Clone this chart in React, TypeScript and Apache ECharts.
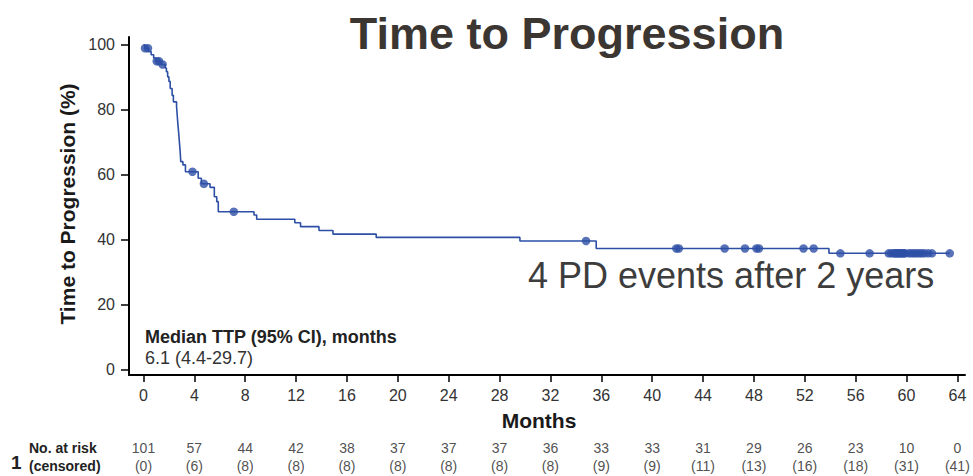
import React, { useEffect, useRef } from "react";
import * as echarts from "echarts";

// Kaplan–Meier step curve: month at which each step starts, and survival (%) from then on
const stepMonths = [
  0, 0.1, 0.4, 0.6, 0.8, 0.95, 1.4, 1.7, 1.8, 1.9, 2.0, 2.1, 2.25, 2.35, 2.6,
  2.64, 2.68, 2.72, 2.77, 2.81, 2.85, 2.89, 2.93, 3.1, 3.3, 4.3, 4.55, 5.23,
  5.57, 5.76, 5.88, 8.69, 8.9, 11.9, 12.35, 13.8, 14.9, 18.3, 29.6, 35.6, 53.9,
  63.4,
];
const stepSurvival = [
  100, 99.0, 98.0, 97.0, 96.0, 95.0, 94.0, 92.9, 91.8, 90.2, 88.8, 86.6, 84.5,
  82.5, 81.0, 79.0, 76.9, 74.9, 72.9, 70.8, 68.8, 66.8, 64.1, 63.1, 61.0, 59.0,
  57.3, 56.2, 53.3, 51.8, 48.7, 47.7, 46.4, 45.3, 44.1, 42.9, 41.8, 40.8, 39.7,
  37.4, 35.9, 35.9,
];

// Censoring times (months)
const censorMonths = [
  0.12, 0.35, 1.04, 1.22, 1.5, 3.85, 4.75, 7.1, 34.8, 41.9, 42.1, 45.7, 47.3,
  48.2, 48.4, 51.9, 52.7, 54.8, 57.1, 58.6, 58.8, 59.0, 59.1, 59.2, 59.3, 59.4,
  59.5, 59.6, 59.7, 59.8, 59.9, 60.2, 60.4, 60.6, 60.8, 61.0, 61.2, 61.4, 61.7,
  62.0, 63.4,
];

// Axis ticks
const monthTicks = [0, 4, 8, 12, 16, 20, 24, 28, 32, 36, 40, 44, 48, 52, 56, 60, 64];
const percentTicks = [0, 20, 40, 60, 80, 100];

// Risk table
const atRisk = [101, 57, 44, 42, 38, 37, 37, 37, 36, 33, 33, 31, 29, 26, 23, 10, 0];
const censoredCounts = [0, 6, 8, 8, 8, 8, 8, 8, 8, 9, 9, 11, 13, 16, 18, 31, 41];

const FONT = "'Liberation Sans', Arial, sans-serif";
const BLUE = "#2d4fa5";
const X_MIN = -1.14;
const X_MAX = 64.6;
const Y_MIN = -1.54;
const Y_MAX = 102.46;

function survivalAt(t: number): number {
  let s = stepSurvival[0];
  for (let i = 0; i < stepMonths.length; i++) {
    if (stepMonths[i] <= t) s = stepSurvival[i];
  }
  return s;
}

export default function App() {
  const ref = useRef<HTMLDivElement>(null);

  useEffect(() => {
    if (!ref.current) return;
    const chart = echarts.init(ref.current, undefined, { renderer: "svg" });

    const curve = stepMonths.map((m, i) => [m, stepSurvival[i]]);
    const censors = censorMonths.map((m) => [m, survivalAt(m)]);

    const riskLabel = {
      show: true,
      position: "inside",
      fontSize: 14,
      color: "#222",
      fontFamily: FONT,
    };

    chart.setOption({
      animation: false,
      textStyle: { fontFamily: FONT },
      grid: [
        { left: 129, right: 8, top: 37, bottom: 101 },
        { left: 129, right: 8, top: 448, height: 18 },
      ],
      xAxis: [
        {
          type: "value",
          gridIndex: 0,
          min: X_MIN,
          max: X_MAX,
          splitLine: { show: false },
          axisLine: { show: true, onZero: false, lineStyle: { color: "#000", width: 2 } },
          axisTick: {
            show: true,
            length: 7,
            customValues: monthTicks,
            lineStyle: { color: "#000", width: 1.5 },
          },
          axisLabel: {
            customValues: monthTicks,
            margin: 12,
            fontSize: 16,
            color: "#333",
            fontFamily: FONT,
          },
        },
        {
          type: "value",
          gridIndex: 1,
          min: X_MIN,
          max: X_MAX,
          show: false,
        },
      ],
      yAxis: [
        {
          type: "value",
          gridIndex: 0,
          min: Y_MIN,
          max: Y_MAX,
          splitLine: { show: false },
          axisLine: { show: true, onZero: false, lineStyle: { color: "#000", width: 2 } },
          axisTick: {
            show: true,
            length: 8,
            customValues: percentTicks,
            lineStyle: { color: "#000", width: 1.5 },
          },
          axisLabel: {
            customValues: percentTicks,
            margin: 14,
            fontSize: 16,
            color: "#333",
            fontFamily: FONT,
          },
        },
        { type: "value", gridIndex: 1, min: 0, max: 1, show: false },
      ],
      series: [
        {
          type: "line",
          step: "end",
          data: curve,
          showSymbol: false,
          lineStyle: { color: BLUE, width: 1.6 },
          z: 2,
        },
        {
          type: "scatter",
          data: censors,
          symbol: "circle",
          symbolSize: 8.5,
          itemStyle: { color: BLUE },
          z: 3,
        },
        {
          type: "scatter",
          xAxisIndex: 1,
          yAxisIndex: 1,
          data: atRisk.map((v, i) => [monthTicks[i], 1, v]),
          symbolSize: 1,
          itemStyle: { color: "transparent" },
          label: { ...riskLabel, formatter: (p: any) => String(p.value[2]) },
        },
        {
          type: "scatter",
          xAxisIndex: 1,
          yAxisIndex: 1,
          data: censoredCounts.map((v, i) => [monthTicks[i], 0, v]),
          symbolSize: 1,
          itemStyle: { color: "transparent" },
          label: { ...riskLabel, formatter: (p: any) => `(${p.value[2]})` },
        },
      ],
      graphic: [
        {
          type: "text",
          x: 567,
          y: 33,
          style: {
            text: "Time to Progression",
            font: `bold 45px ${FONT}`,
            fill: "#3b3632",
            align: "center",
            verticalAlign: "middle",
          },
        },
        {
          type: "text",
          x: 67,
          y: 204,
          rotation: Math.PI / 2,
          style: {
            text: "Time to Progression (%)",
            font: `bold 21px ${FONT}`,
            fill: "#1a1a1a",
            align: "center",
            verticalAlign: "middle",
          },
        },
        {
          type: "text",
          x: 539,
          y: 420,
          style: {
            text: "Months",
            font: `bold 21px ${FONT}`,
            fill: "#1a1a1a",
            align: "center",
            verticalAlign: "middle",
          },
        },
        {
          type: "text",
          x: 145,
          y: 337,
          style: {
            text: "Median TTP (95% CI), months",
            font: `bold 18px ${FONT}`,
            fill: "#222",
            align: "left",
            verticalAlign: "middle",
          },
        },
        {
          type: "text",
          x: 145,
          y: 358,
          style: {
            text: "6.1 (4.4-29.7)",
            font: `18px ${FONT}`,
            fill: "#333",
            align: "left",
            verticalAlign: "middle",
          },
        },
        {
          type: "text",
          x: 528,
          y: 275,
          style: {
            text: "4 PD events after 2 years",
            font: `36px ${FONT}`,
            fill: "#3d3d3d",
            align: "left",
            verticalAlign: "middle",
          },
        },
        {
          type: "text",
          x: 29,
          y: 448,
          style: {
            text: "No. at risk",
            font: `bold 14px ${FONT}`,
            fill: "#222",
            align: "left",
            verticalAlign: "middle",
          },
        },
        {
          type: "text",
          x: 29,
          y: 466,
          style: {
            text: "(censored)",
            font: `bold 14px ${FONT}`,
            fill: "#222",
            align: "left",
            verticalAlign: "middle",
          },
        },
        {
          type: "text",
          x: 11,
          y: 462,
          style: {
            text: "1",
            font: `bold 19px ${FONT}`,
            fill: "#222",
            align: "left",
            verticalAlign: "middle",
          },
        },
      ],
    });

    return () => chart.dispose();
  }, []);

  return (
    <div
      ref={ref}
      style={{ position: "fixed", left: 0, top: 0, width: 973, height: 476, background: "#fff" }}
    />
  );
}
